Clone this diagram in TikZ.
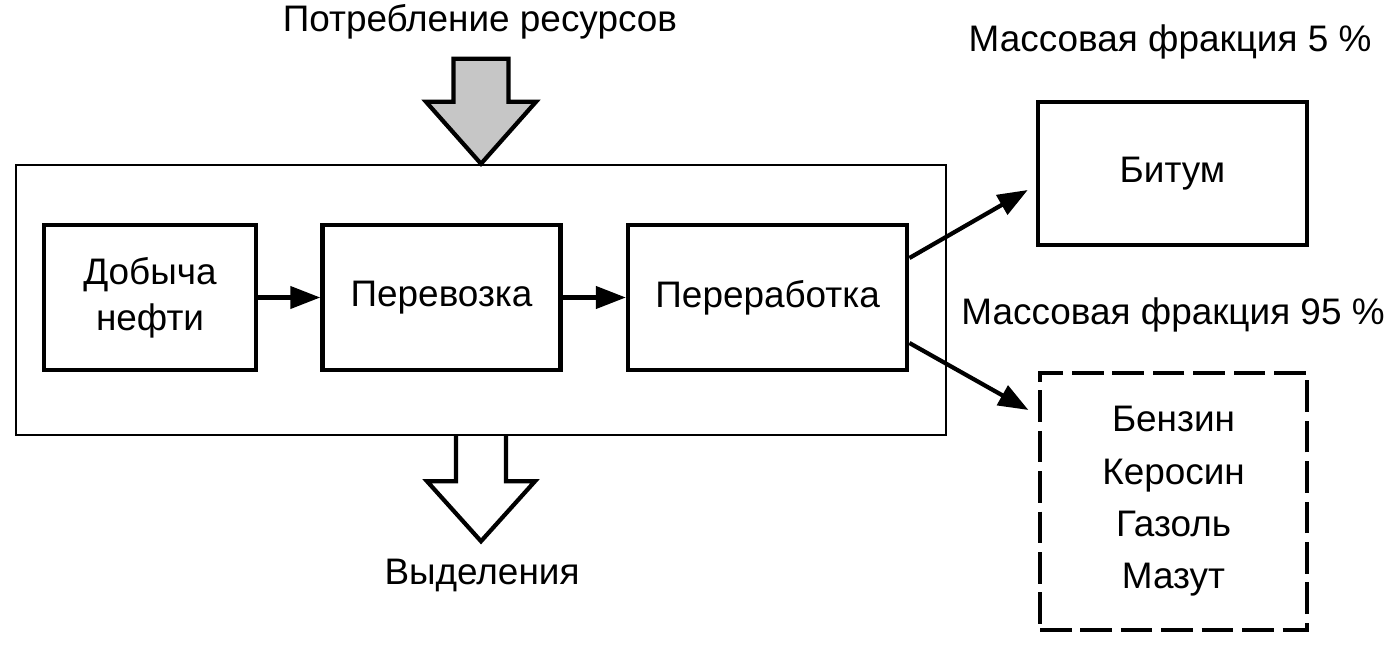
\documentclass[tikz,border=0pt]{standalone}
\usepackage{fontspec}
\setmainfont{Liberation Sans}
\usepackage{tikz}
\usetikzlibrary{arrows.meta,positioning,calc}

\begin{document}
\begin{tikzpicture}[
    node distance=0.65cm,
    box/.style={draw, line width=1.3pt, minimum height=1.45cm, font=\fontsize{10.5}{13}\selectfont, align=center, inner sep=0pt},
    arr/.style={-{Triangle[length=3mm, width=2.2mm]}, line width=1.2pt},
    bigarrow/.style={draw, line width=1.2pt, line join=miter},
    lbl/.style={font=\fontsize{10.5}{13}\selectfont, inner sep=0pt}
]
\useasboundingbox (0,0) rectangle (13.95,6.52);

\node[draw, line width=0.7pt, minimum width=9.30cm, minimum height=2.70cm, inner sep=0pt] (system) at (4.81,3.52) {};

\node[box, minimum width=2.12cm] (extraction) at (1.50,3.545) {Добыча\\нефти};
\node[box, minimum width=2.38cm, right=0.62cm of extraction] (transport) {Перевозка};
\node[box, minimum width=2.79cm, right=0.63cm of transport] (refining) {Переработка};

\node[box, minimum width=2.69cm, minimum height=1.43cm] (bitumen) at (11.725,4.785) {Битум};
\node[box, line width=0.9pt, dash pattern=on 9pt off 2.5pt, minimum width=2.67cm, minimum height=2.57cm,
      font=\fontsize{10.5}{14.9}\selectfont] (fuels) at (11.735,1.505) {Бензин\\Керосин\\Газоль\\Мазут};

\draw[arr] (extraction) -- (transport);
\draw[arr] (transport) -- (refining);
\draw[arr] ([yshift=0.395cm]refining.east) -- ([xshift=-0.08cm,yshift=-0.165cm]bitumen.west);
\draw[arr] ([yshift=-0.455cm]refining.east) -- ([xshift=-0.10cm,yshift=0.915cm]fuels.west);

% resource input / emission output
\draw[bigarrow, fill=gray!45] (system.north) -- ++(-0.55,0.62) -- ++(0.275,0) -- ++(0,0.43)
    -- ++(0.55,0) -- ++(0,-0.43) -- ++(0.275,0) -- cycle;
\draw[bigarrow, fill=white] ([xshift=-0.25cm]system.south) -- ++(0,-0.45) -- ++(-0.29,0)
    -- ++(0.54,-0.60) -- ++(0.54,0.60) -- ++(-0.29,0) -- ++(0,0.45);

\node[lbl] (input) at (4.80,6.30) {Потребление ресурсов};
\node[lbl] (output) at (4.82,0.77) {Выделения};
\node[lbl] (share5) at (11.70,6.10) {Массовая фракция 5 \%};
\node[lbl] (share95) at (11.73,3.37) {Массовая фракция 95 \%};
\end{tikzpicture}
\end{document}
